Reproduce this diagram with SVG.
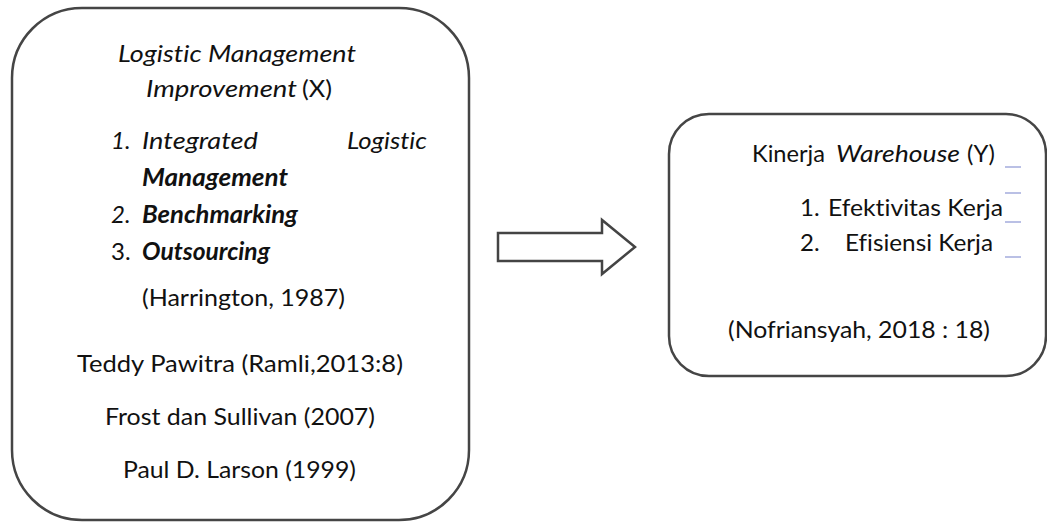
<svg xmlns="http://www.w3.org/2000/svg" width="1047" height="523" viewBox="0 0 1047 523">
  <style>
    .box { fill: #ffffff; stroke: #454545; stroke-width: 2.5; }
    .arrow { fill: #ffffff; stroke: #444444; stroke-width: 2.5; stroke-linejoin: miter; }
    text { font-family: "Lato", "Liberation Sans", sans-serif; font-size: 24px; fill: #111111; font-variant-ligatures: none; }
    .i { font-style: italic; }
    .bi { font-style: italic; font-weight: bold; }
    .mark { stroke: #a3abdd; stroke-width: 1.5; }
  </style>
  <rect width="1047" height="523" fill="#ffffff"/>
  <g id="connectors">
    <polygon class="arrow" points="498,233 602,233 602,220 635,247 602,274 602,261 498,261"/>
  </g>
  <g id="node-x">
    <rect class="box" x="12" y="8" width="457" height="512" rx="70" ry="70"/>
    <text class="i" x="118" y="62" textLength="238" lengthAdjust="spacingAndGlyphs">Logistic Management</text>
    <text class="i" x="146" y="97" textLength="151" lengthAdjust="spacingAndGlyphs">Improvement</text>
    <text x="302" y="97" textLength="30" lengthAdjust="spacingAndGlyphs">(X)</text>
    <text class="i" x="111" y="149" font-size="19">1.</text>
    <text class="i" x="142" y="149" textLength="116" lengthAdjust="spacingAndGlyphs">Integrated</text>
    <text class="i" x="347" y="149" textLength="80" lengthAdjust="spacingAndGlyphs">Logistic</text>
    <text class="bi" x="142" y="186" textLength="146" lengthAdjust="spacingAndGlyphs">Management</text>
    <text class="i" x="111" y="223" font-size="20">2.</text>
    <text class="bi" x="142" y="223" textLength="156" lengthAdjust="spacingAndGlyphs">Benchmarking</text>
    <text x="111" y="260" font-size="20">3.</text>
    <text class="bi" x="142" y="260" textLength="128" lengthAdjust="spacingAndGlyphs">Outsourcing</text>
    <text x="142" y="306" textLength="203" lengthAdjust="spacingAndGlyphs">(Harrington, 1987)</text>
    <text x="77" y="372" textLength="326" lengthAdjust="spacingAndGlyphs">Teddy Pawitra (Ramli,2013:8)</text>
    <text x="105" y="425" textLength="270" lengthAdjust="spacingAndGlyphs">Frost dan Sullivan (2007)</text>
    <text x="123" y="478" textLength="233" lengthAdjust="spacingAndGlyphs">Paul D. Larson (1999)</text>
  </g>
  <g id="node-y">
    <rect class="box" x="669" y="114" width="377" height="262" rx="40" ry="40"/>
    <text x="752" y="162" textLength="73" lengthAdjust="spacingAndGlyphs">Kinerja</text>
    <text class="i" x="836" y="162" textLength="124" lengthAdjust="spacingAndGlyphs">Warehouse</text>
    <text x="967" y="162" textLength="28" lengthAdjust="spacingAndGlyphs">(Y)</text>
    <text x="800" y="216">1.</text>
    <text x="828" y="216" textLength="175" lengthAdjust="spacingAndGlyphs">Efektivitas Kerja</text>
    <text x="800" y="251">2.</text>
    <text x="845" y="251" textLength="148" lengthAdjust="spacingAndGlyphs">Efisiensi Kerja</text>
    <text x="728" y="338" textLength="262" lengthAdjust="spacingAndGlyphs">(Nofriansyah, 2018 : 18)</text>
    <line class="mark" x1="1005" y1="167" x2="1021" y2="167"/>
    <line class="mark" x1="1005" y1="193" x2="1021" y2="193"/>
    <line class="mark" x1="1005" y1="222" x2="1021" y2="222"/>
    <line class="mark" x1="1005" y1="257" x2="1021" y2="257"/>
  </g>
</svg>
